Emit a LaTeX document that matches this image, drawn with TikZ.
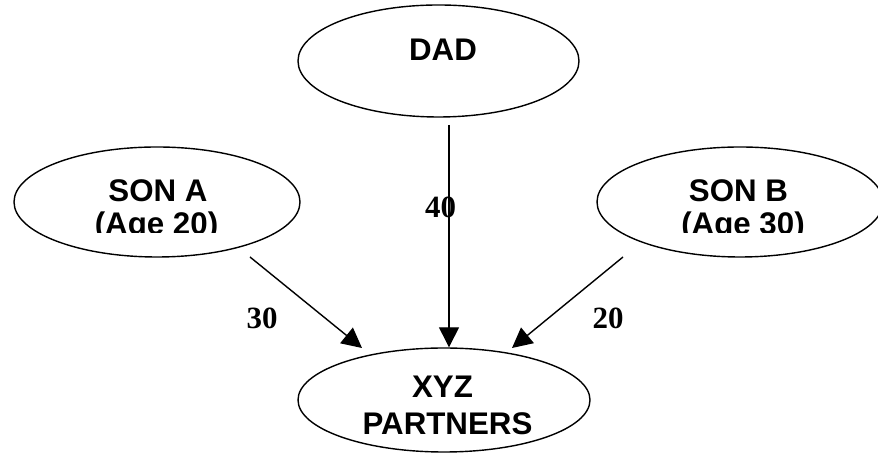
\documentclass[tikz,border=0pt]{standalone}
\usepackage{fontspec}
\setmainfont{Liberation Sans}
\newfontfamily\numfont{Liberation Serif}
\usetikzlibrary{shapes.geometric,arrows.meta}
\tikzset{oval/.style = {draw, ellipse, line width=0.8pt, inner sep=0pt, minimum width=5.72cm, minimum height=2.2cm},
         lbl/.style = {anchor=base, inner sep=0pt, font=\fontsize{17.8}{20}\selectfont\bfseries},
         num/.style = {anchor=base, inner sep=0pt, font=\fontsize{17.6}{20}\selectfont\numfont\bfseries},
         arr/.style = {line width=0.8pt, -{Triangle[length=0.4cm, width=0.4cm]}}}

\begin{document}
\begin{tikzpicture}
        \useasboundingbox (0,0) rectangle (17.56,9.16);

        \node[oval, minimum width=5.62cm, minimum height=2.24cm] (dad) at (8.77,7.94) {};
        \node[oval] (sona) at (3.14,5.12) {};
        \node[oval] (sonb) at (14.8,5.12) {};
        \node[oval, minimum width=5.84cm, minimum height=2.08cm] (xyz) at (8.88,1.16) {};

        \node[lbl] (dadname) at (8.86,7.94) {DAD};
        \node[lbl] (sonaname) at (3.16,5.12) {SON A};
        \node[lbl] (sonbname) at (14.77,5.12) {SON B};
        \node[lbl] (xyzname) at (8.85,1.20) {XYZ};
        \node[lbl] (xyzpart) at (8.95,0.46) {PARTNERS};

        % second lines are cut off by the box
        \begin{scope}
            \clip (0,4.50) rectangle (17.56,9.16);
            \node[lbl] (sonaage) at (3.13,4.46) {(Age 20)};
            \node[lbl] (sonbage) at (14.86,4.46) {(Age 30)};
        \end{scope}

        \coordinate (sona-out) at (5.00,4.02);
        \coordinate (sonb-out) at (12.46,4.02);
        \coordinate (dad-out) at (8.98,6.66);
        \coordinate (xyz-a) at (7.24,2.20);
        \coordinate (xyz-b) at (10.24,2.20);

        \draw[arr] (sona-out) -- (xyz-a);
        \draw[arr] (dad-out) -- (dad-out |- xyz.north);
        \draw[arr] (sonb-out) -- (xyz-b);

        \node[num] (dadshare) at (8.81,4.80) {40};
        \node[num] (sonashare) at (5.24,2.58) {30};
        \node[num] (sonbshare) at (12.16,2.58) {20};
    \end{tikzpicture}
\end{document}
